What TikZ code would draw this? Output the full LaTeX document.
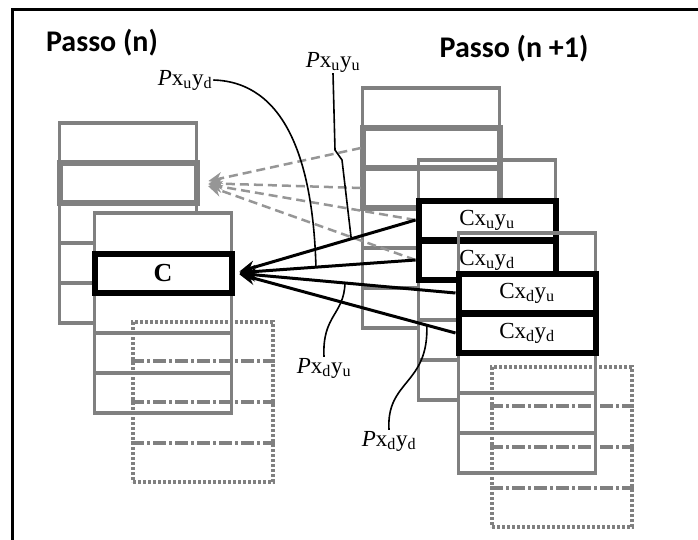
\documentclass[tikz,border=0pt]{standalone}
\usepackage{fontspec}
\setmainfont{Liberation Serif}
\newfontfamily\headfont{Carlito}
\usepackage{tikz}
\usetikzlibrary{arrows.meta,calc}
\definecolor{cellgray}{RGB}{128,128,128}
\definecolor{linkgray}{RGB}{150,150,150}
\tikzstyle{cell}=[rectangle,draw=cellgray,line width=3.2pt,minimum width=137pt,minimum height=40pt,inner sep=0pt]
\tikzstyle{wcell}=[cell,fill=white]
\tikzstyle{hcell}=[cell,line width=6pt]
\tikzstyle{bcell}=[rectangle,draw=black,line width=6pt,fill=white,minimum width=137pt,minimum height=39pt,inner sep=0pt,font=\fontsize{23}{24}\selectfont]
\tikzstyle{dcell}=[rectangle,draw=cellgray,line width=3.5pt,dash pattern=on 3pt off 2pt,minimum width=140pt,minimum height=160pt,inner sep=0pt]
\tikzstyle{dotdash}=[draw=cellgray,line width=3.5pt,dash pattern=on 13pt off 3pt on 3pt off 3pt]
\tikzstyle{plabel}=[font=\fontsize{23}{24}\selectfont,inner sep=1pt]
\tikzstyle{lead}=[black,line width=1.6pt]
\tikzstyle{link}=[black,line width=3pt,-{Stealth[length=16pt,width=13pt]},shorten >=5pt]
\tikzstyle{oldlink}=[linkgray,line width=2.5pt,dash pattern=on 9pt off 5pt,-{Stealth[length=14pt,width=12pt]},shorten >=9pt]
\tikzstyle{title}=[font=\headfont\bfseries\fontsize{30}{32}\selectfont]

\begin{document}
\begin{tikzpicture}[x=1pt,y=-1pt]
        \useasboundingbox (0,0) rectangle (698,540);
        \draw[line width=3pt] (12,560) -- (12,10) -- (720,10);
        \node[title] (tn) at (102,43) {Passo (n)};
        \node[title] (tn1) at (514,49) {Passo (n +1)};
        % passo n
        \foreach \i in {1,...,5}
            \node[cell] (a\i) at (128,103+40*\i) {};
        \node[hcell] (ah) at (a2) {};
        \foreach \i in {1,...,5}
            \node[wcell] (b\i) at (163,193+40*\i) {};
        \node[bcell] (c) at (b2) {\fontsize{26}{28}\selectfont\bfseries C};
        \node[dcell] (ld) at (203,402) {};
        \foreach \k in {1,2,3}
            \draw[dotdash] ($(ld.north west)!\k/4!(ld.south west)$) -- ($(ld.north east)!\k/4!(ld.south east)$);
        % passo n+1
        \foreach \i in {1,...,6}
            \node[cell] (q\i) at (431,68+40*\i) {};
        \node[hcell] (qh2) at (q2) {};
        \node[hcell] (qh3) at (q3) {};
        \node[cell] (s1) at (487,180) {};
        \foreach \i in {2,...,6}
            \node[wcell] (s\i) at (487,140+40*\i) {};
        \node[bcell] (cuu) at (s2) {Cx\textsubscript{u}y\textsubscript{u}};
        \node[bcell] (cud) at (s3) {Cx\textsubscript{u}y\textsubscript{d}};
        \node[cell] (t1) at (527,253) {};
        \foreach \i in {2,...,6}
            \node[wcell] (t\i) at (527,213+40*\i) {};
        \node[bcell] (cdu) at (t2) {Cx\textsubscript{d}y\textsubscript{u}};
        \node[bcell] (cdd) at (t3) {Cx\textsubscript{d}y\textsubscript{d}};
        \node[dcell] (rd) at (562,447) {};
        \foreach \k in {1,2,3}
            \draw[dotdash] ($(rd.north west)!\k/4!(rd.south west)$) -- ($(rd.north east)!\k/4!(rd.south east)$);
        % ligacoes
        \draw[oldlink] (q2.west) -- (ah.east);
        \draw[oldlink] (q3.west) -- (ah.east);
        \draw[oldlink] (cuu.west) -- (ah.east);
        \draw[oldlink] (cud.west) -- (ah.east);
        \draw[link] (cuu.west) -- (c.east);
        \draw[link] (cud.west) -- (c.east);
        \draw[link] (cdu.west) -- (c.east);
        \draw[link] (cdd.west) -- (c.east);
        \coordinate (k1) at ($(cuu.west)!0.355!(c.east)$);
        \coordinate (k2) at ($(cud.west)!0.55!(c.east)$);
        \coordinate (k3) at ($(cdu.west)!0.5!(c.east)$);
        \coordinate (k4) at ($(cdd.west)!0.13!(c.east)$);
        \node[plabel] (pud) at (185,80) {\textit{P}x\textsubscript{u}y\textsubscript{d}};
        \node[plabel] (puu) at (333,62) {\textit{P}x\textsubscript{u}y\textsubscript{u}};
        \node[plabel] (pdu) at (324,368) {\textit{P}x\textsubscript{d}y\textsubscript{u}};
        \node[plabel] (pdd) at (389,441) {\textit{P}x\textsubscript{d}y\textsubscript{d}};
        \draw[lead] (pud.east) .. controls (285,82) and (313,160) .. (k2);
        \draw[lead] (puu.south) -- (335,150) -- (342,160) -- (k1);
        \draw[lead] (pdu.north) .. controls (322,315) and (344,315) .. (k3);
        \draw[lead] (pdd.north) .. controls (386,380) and (429,385) .. (k4);
\end{tikzpicture}
\end{document}
